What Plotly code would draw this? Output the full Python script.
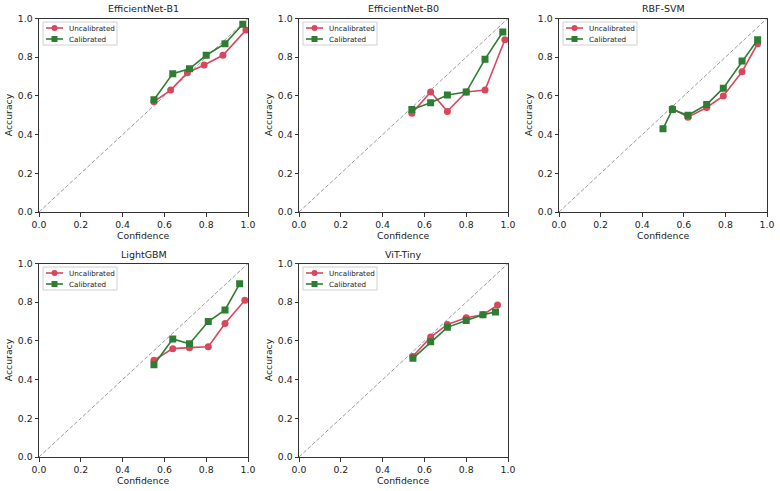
import plotly.graph_objects as go

titles = ["EfficientNet-B1", "EfficientNet-B0", "RBF-SVM", "LightGBM", "ViT-Tiny"]

unc_conf = [
    [0.55, 0.63, 0.71, 0.79, 0.88, 0.99],
    [0.54, 0.63, 0.71, 0.80, 0.89, 0.985],
    [0.545, 0.62, 0.71, 0.79, 0.88, 0.955],
    [0.55, 0.64, 0.72, 0.81, 0.89, 0.985],
    [0.545, 0.63, 0.71, 0.80, 0.88, 0.95],
]
unc_acc = [
    [0.57, 0.63, 0.72, 0.76, 0.81, 0.94],
    [0.51, 0.62, 0.52, 0.62, 0.63, 0.89],
    [0.535, 0.49, 0.54, 0.60, 0.725, 0.87],
    [0.50, 0.56, 0.565, 0.57, 0.69, 0.81],
    [0.52, 0.62, 0.685, 0.72, 0.735, 0.785],
]
cal_conf = [
    [0.55, 0.64, 0.72, 0.80, 0.89, 0.975],
    [0.54, 0.63, 0.71, 0.80, 0.89, 0.975],
    [0.50, 0.545, 0.62, 0.71, 0.79, 0.88, 0.955],
    [0.55, 0.64, 0.72, 0.81, 0.89, 0.96],
    [0.545, 0.63, 0.71, 0.80, 0.88, 0.94],
]
cal_acc = [
    [0.58, 0.715, 0.74, 0.81, 0.87, 0.97],
    [0.53, 0.565, 0.605, 0.62, 0.79, 0.93],
    [0.43, 0.53, 0.50, 0.555, 0.64, 0.78, 0.89],
    [0.477, 0.61, 0.585, 0.70, 0.76, 0.895],
    [0.51, 0.595, 0.67, 0.705, 0.735, 0.75],
]
series_names = ["Uncalibrated", "Calibrated"]
x_label = "Confidence"
y_label = "Accuracy"
diag = [0, 1]
tick_vals = [0.0, 0.2, 0.4, 0.6, 0.8, 1.0]
tick_text = ["0.0", "0.2", "0.4", "0.6", "0.8", "1.0"]

RED = "#d8475e"
GREEN = "#2e7d32"
FONT = "DejaVu Sans"
W, H = 780, 491

# plot-area pixel boxes (left, right, top, bottom)
boxes = [
    (39, 248, 18.5, 212), (299, 508, 18.5, 212), (559, 767, 18.5, 212),
    (39, 248, 263.5, 457), (299, 508, 263.5, 457),
]


def px(x):
    return x / W


def py(y):
    return 1 - y / H


fig = go.Figure()
layout = dict(
    width=W, height=H, margin=dict(l=0, r=0, t=0, b=0),
    plot_bgcolor="white", paper_bgcolor="white",
    font=dict(family=FONT, size=9.3, color="#222"),
    showlegend=False, annotations=[], shapes=[],
)

colors = [RED, GREEN]
for i, title in enumerate(titles):
    n = i + 1
    xa = "x" if n == 1 else f"x{n}"
    ya = "y" if n == 1 else f"y{n}"
    l, r, t, b = boxes[i]
    fig.add_trace(go.Scatter(x=diag, y=diag, mode="lines", xaxis=xa, yaxis=ya,
                             line=dict(color="#9a9a9a", width=1, dash="4px,2px"),
                             hoverinfo="skip"))
    fig.add_trace(go.Scatter(x=unc_conf[i], y=unc_acc[i], mode="lines+markers",
                             name=series_names[0], xaxis=xa, yaxis=ya,
                             line=dict(color=RED, width=1.6),
                             marker=dict(symbol="circle", size=7, color=RED)))
    fig.add_trace(go.Scatter(x=cal_conf[i], y=cal_acc[i], mode="lines+markers",
                             name=series_names[1], xaxis=xa, yaxis=ya,
                             line=dict(color=GREEN, width=1.6),
                             marker=dict(symbol="square", size=7, color=GREEN)))
    axcommon = dict(range=[0, 1], tickmode="array", tickvals=tick_vals, ticktext=tick_text,
                    showgrid=False, zeroline=False, showline=True, linecolor="#333",
                    linewidth=1, mirror=True, ticks="outside", ticklen=3.5,
                    tickcolor="#333", tickfont=dict(size=9.3, color="#222"),
                    automargin=False)
    layout["xaxis" if n == 1 else f"xaxis{n}"] = dict(
        axcommon, domain=[px(l), px(r)], anchor=ya)
    layout["yaxis" if n == 1 else f"yaxis{n}"] = dict(
        axcommon, domain=[py(b), py(t)], anchor=xa)
    # subplot title
    layout["annotations"].append(dict(
        text=title, x=px((l + r) / 2), y=py(t - 9.5), xref="paper", yref="paper",
        xanchor="center", yanchor="middle", showarrow=False,
        font=dict(size=9.5, color="#222")))
    # axis titles
    layout["annotations"].append(dict(
        text=x_label, x=px((l + r) / 2), y=py(b + 23.5), xref="paper", yref="paper",
        xanchor="center", yanchor="middle", showarrow=False,
        font=dict(size=9.3, color="#222")))
    layout["annotations"].append(dict(
        text=y_label, x=px(l - 31), y=py((t + b) / 2), xref="paper", yref="paper",
        xanchor="center", yanchor="middle", showarrow=False, textangle=-90,
        font=dict(size=9.3, color="#222")))
    # legend box (drawn as layout decoration)
    layout["shapes"].append(dict(
        type="rect", xref="paper", yref="paper",
        x0=px(l + 4), x1=px(l + 78), y0=py(t + 3.5), y1=py(t + 26.5),
        line=dict(color="#d0d0d0", width=1), fillcolor="rgba(255,255,255,0.8)"))
    for k, (name, col) in enumerate(zip(series_names, colors)):
        yy = t + 9.5 + 11 * k
        layout["shapes"].append(dict(
            type="line", xref="paper", yref="paper",
            x0=px(l + 7), x1=px(l + 24), y0=py(yy), y1=py(yy),
            line=dict(color=col, width=1.6)))
        layout["shapes"].append(dict(
            type="circle" if k == 0 else "rect", xref="paper", yref="paper",
            x0=px(l + 15.5 - 3), x1=px(l + 15.5 + 3), y0=py(yy + 3), y1=py(yy - 3),
            line=dict(color=col, width=0), fillcolor=col))
        layout["annotations"].append(dict(
            text=name, x=px(l + 28), y=py(yy), xref="paper", yref="paper",
            xanchor="left", yanchor="middle", showarrow=False,
            font=dict(size=7.2, color="#222")))

fig.update_layout(**layout)
fig.write_html("out.html")
